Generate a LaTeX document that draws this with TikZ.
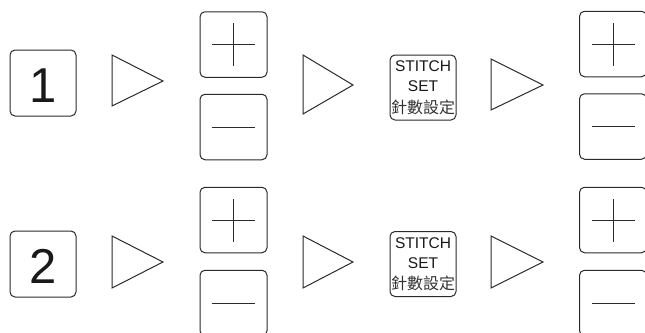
\documentclass[tikz,border=0pt]{standalone}
\usepackage{fontspec}
\setmainfont{Liberation Sans}
\newfontfamily\cjk{Noto Sans CJK TC}
\definecolor{ink}{HTML}{2A2A2A}
\tikzset{
  keybox/.style={draw=ink, line width=1pt, rounded corners=5pt, inner sep=0pt, minimum width=66pt, minimum height=66pt},
  signbox/.style={keybox, minimum width=67pt, minimum height=65.5pt},
  stitchbox/.style={keybox, minimum width=66pt, minimum height=65pt},
  arrowtri/.style={draw=ink, line width=1pt, line join=miter},
  sign/.style={draw=ink, line width=1pt},
  numtext/.style={font=\fontsize{49}{49}\selectfont, text=black!90},
  captext/.style={font=\fontsize{15.5}{15.5}\selectfont, text=black!90, inner sep=0pt, anchor=base},
  cjktext/.style={font=\cjk\fontsize{16}{16}\selectfont, text=black!80, inner sep=0pt, anchor=base}
}
\newcommand{\plussign}[1]{%
  \draw[sign] ([xshift=-21.5pt]#1.center) -- ([xshift=21.5pt]#1.center);
  \draw[sign] ([yshift=-21.5pt]#1.center) -- ([yshift=21.5pt]#1.center);}
\newcommand{\minussign}[1]{%
  \draw[sign] ([xshift=-21.5pt]#1.center) -- ([xshift=21.5pt]#1.center);}
\newcommand{\stitchtext}[2]{%
  \node[captext] (#1a) at (423,#2) {STITCH};
  \node[captext] (#1b) at (423,#2+20) {SET};
  \node[cjktext] (#1c) at (423,#2+41.5) {針數設定};}
\begin{document}
\begin{tikzpicture}[x=1pt,y=-1pt]
\useasboundingbox (0,0) rectangle (645,332);
% ---- top row ----
\node[keybox] (k1) at (43,83) {};
\node[numtext] (k1t) at ([yshift=-2.5pt]k1.center) {1};
\draw[arrowtri] (112,55) -- (163,81) -- (112,106) -- cycle;
\node[signbox] (p1) at (233.5,44.5) {};
\plussign{p1}
\node[signbox] (m1) at (233.5,127) {};
\minussign{m1}
\draw[arrowtri] (303,55) -- (353,85) -- (303,114) -- cycle;
\node[stitchbox] (s1) at (423,87.5) {};
\stitchtext{s1}{71.7}
\draw[arrowtri] (491,59) -- (543,85) -- (491,110) -- cycle;
\node[signbox] (p3) at (613,44) {};
\plussign{p3}
\node[signbox] (m3) at (613,126.5) {};
\minussign{m3}
% ---- bottom row ----
\node[keybox] (k2) at (43,264) {};
\node[numtext] (k2t) at ([yshift=-2.5pt]k2.center) {2};
\draw[arrowtri] (112,236) -- (163,262) -- (112,288) -- cycle;
\node[signbox] (p2) at (233.5,220) {};
\plussign{p2}
\node[signbox] (m2) at (233.5,303) {};
\minussign{m2}
\draw[arrowtri] (303,236) -- (353,262) -- (303,288) -- cycle;
\node[stitchbox] (s2) at (423,264) {};
\stitchtext{s2}{248.2}
\draw[arrowtri] (491,236) -- (543,262) -- (491,288) -- cycle;
\node[signbox] (p4) at (613,220) {};
\plussign{p4}
\node[signbox] (m4) at (613,303) {};
\minussign{m4}
\end{tikzpicture}
\end{document}
